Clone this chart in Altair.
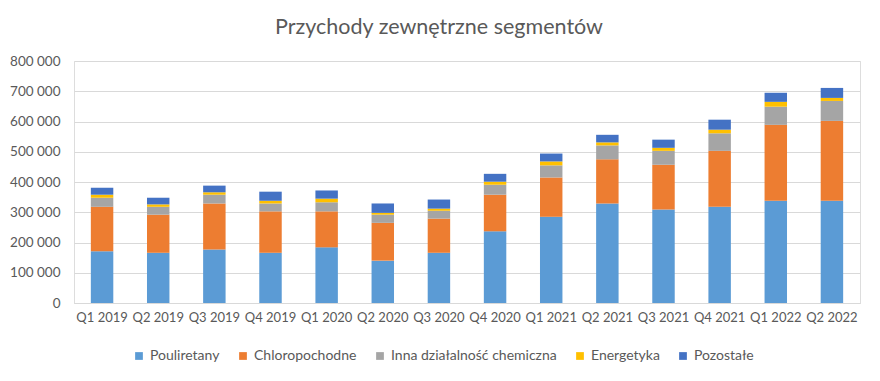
import altair as alt
import pandas as pd

quarters = ["Q1 2019", "Q2 2019", "Q3 2019", "Q4 2019", "Q1 2020", "Q2 2020", "Q3 2020",
            "Q4 2020", "Q1 2021", "Q2 2021", "Q3 2021", "Q4 2021", "Q1 2022", "Q2 2022"]
segments = ["Pouliretany", "Chloropochodne", "Inna działalność chemiczna", "Energetyka", "Pozostałe"]
colors = ["#5B9BD5", "#ED7D31", "#A5A5A5", "#FFC000", "#4472C4"]

pouliretany = [171000, 166000, 177000, 166000, 184000, 140000, 166000, 237000, 285000, 329000, 309000, 318000, 338000, 338000]
chloropochodne = [147000, 126000, 152000, 137000, 119000, 125000, 113000, 121000, 130000, 146000, 148000, 185000, 251000, 264000]
inna = [30000, 26000, 29000, 26000, 30000, 27000, 26000, 33000, 40000, 46000, 46000, 58000, 60000, 66000]
energetyka = [10000, 8000, 8000, 9000, 12000, 6000, 7000, 10000, 13000, 10000, 10000, 12000, 16000, 10000]
pozostale = [23000, 22000, 22000, 30000, 27000, 31000, 30000, 26000, 26000, 25000, 27000, 33000, 30000, 33000]

series = [pouliretany, chloropochodne, inna, energetyka, pozostale]
rows = []
for si, (seg, vals) in enumerate(zip(segments, series)):
    for q, v in zip(quarters, vals):
        rows.append({"kwartal": q, "segment": seg, "wartosc": v, "kolejnosc": si})
df = pd.DataFrame(rows)

chart = alt.Chart(df).mark_bar().encode(
    x=alt.X("kwartal:N", sort=quarters, title=None,
            scale=alt.Scale(paddingInner=0.6, paddingOuter=0.3),
            axis=alt.Axis(labelAngle=0, ticks=False, domainColor="#D9D9D9", labelFontSize=13,
                          labelColor="#595959", labelPadding=8, labelFont="Lato")),
    y=alt.Y("sum(wartosc):Q", title=None, stack="zero",
            scale=alt.Scale(domain=[0, 800000]),
            axis=alt.Axis(values=[0, 100000, 200000, 300000, 400000, 500000, 600000, 700000, 800000],
                          labelExpr="replace(format(datum.value, ',d'), ',', ' ')",
                          domain=False, ticks=False, gridColor="#D9D9D9", labelFontSize=13.5,
                          labelColor="#595959", labelPadding=14, labelFont="Lato")),
    color=alt.Color("segment:N", sort=segments,
                    scale=alt.Scale(domain=segments, range=colors),
                    legend=alt.Legend(title=None, orient="none", direction="horizontal",
                                      legendX=58, legendY=288, symbolType="square", symbolSize=60,
                                      labelFontSize=14, labelColor="#595959", labelFont="Lato",
                                      labelLimit=0, columnPadding=16, symbolStrokeWidth=0,
                                      labelOffset=4)),
    order=alt.Order("kolejnosc:Q", sort="ascending"),
).properties(
    width=786, height=242,
    title=alt.TitleParams("Przychody zewnętrzne segmentów", fontSize=21.5, font="Lato",
                          fontWeight="normal", color="#595959", anchor="middle", offset=16, dx=-28),
    autosize=alt.AutoSizeParams(type="none"),
    padding={"left": 66, "top": 53, "right": 6, "bottom": 70},
).configure_view(stroke=None).configure(background="white")

chart.save("out.html", embed_options={"renderer": "svg", "actions": False})
